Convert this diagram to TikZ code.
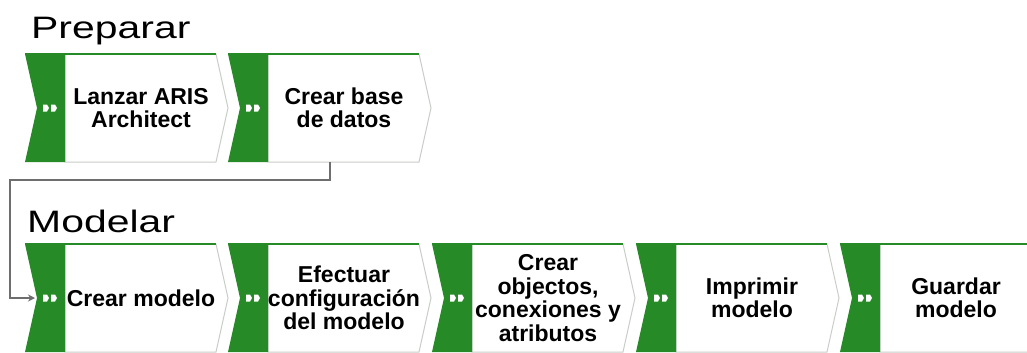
\documentclass[tikz,border=0pt]{standalone}
\usepackage{fontspec}
\setmainfont{Liberation Sans}
\newfontfamily\titlefont[FakeStretch=1.32]{Liberation Sans}
\usetikzlibrary{arrows.meta}
\definecolor{arisgreen}{RGB}{38,138,38}
\definecolor{conngray}{RGB}{110,110,110}
\definecolor{edgegray}{RGB}{200,205,200}
\tikzset{
  steptext/.style={font=\fontsize{23}{23.5}\selectfont\bfseries, align=center, inner sep=0pt, text=black},
  titletext/.style={font=\titlefont\fontsize{31}{31}\selectfont, anchor=base west, inner sep=0pt},
  conn/.style={draw=conngray, line width=1.8pt, -{Stealth[length=7pt,width=7pt]}},
}
\newcommand\ProcStep[4]{%
  \begin{scope}[shift={(#1,#2)}]
    \filldraw[fill=white,draw=edgegray,line width=1pt] (40,0) -- (191,0) -- (203,54) -- (191,108) -- (40,108) -- cycle;
    \fill[arisgreen] (0,0) -- (40,0) -- (40,108) -- (0,108) -- (12,54) -- cycle;
    \draw[arisgreen,line width=2pt] (0,0) -- (191,0);
    \fill[white] (18,50.5) -- (22,50.5) -- (24,54) -- (22,57.5) -- (18,57.5) -- cycle;
    \fill[white] (26,50.5) -- (30,50.5) -- (32,54) -- (30,57.5) -- (26,57.5) -- cycle;
    \node[steptext] (#3) at (116,54) {#4};
  \end{scope}}
\begin{document}
\begin{tikzpicture}[x=1pt,y=-1pt]
  \useasboundingbox (0,0) rectangle (1027,353);
  \fill[white] (0,0) rectangle (1027,353);
  \node[titletext] (tprep) at (31,39) {Preparar};
  \node[titletext] (tmod) at (27,232) {Modelar};
  \ProcStep{25}{54}{lanzar}{Lanzar ARIS\\Architect}
  \ProcStep{228}{54}{base}{Crear base\\de datos}
  \ProcStep{25}{244}{crear}{Crear modelo}
  \ProcStep{228}{244}{efect}{Efectuar\\configuración\\del modelo}
  \ProcStep{432}{244}{objs}{Crear\\objectos,\\conexiones y\\atributos}
  \ProcStep{636}{244}{impr}{Imprimir\\modelo}
  \ProcStep{840}{244}{guard}{Guardar\\modelo}
  \coordinate (basebot) at (330,162);
  \coordinate (bend) at (10,180);
  \coordinate (crearin) at (35,298);
  \draw[conn] (basebot) |- (bend) |- (crearin);
\end{tikzpicture}
\end{document}
